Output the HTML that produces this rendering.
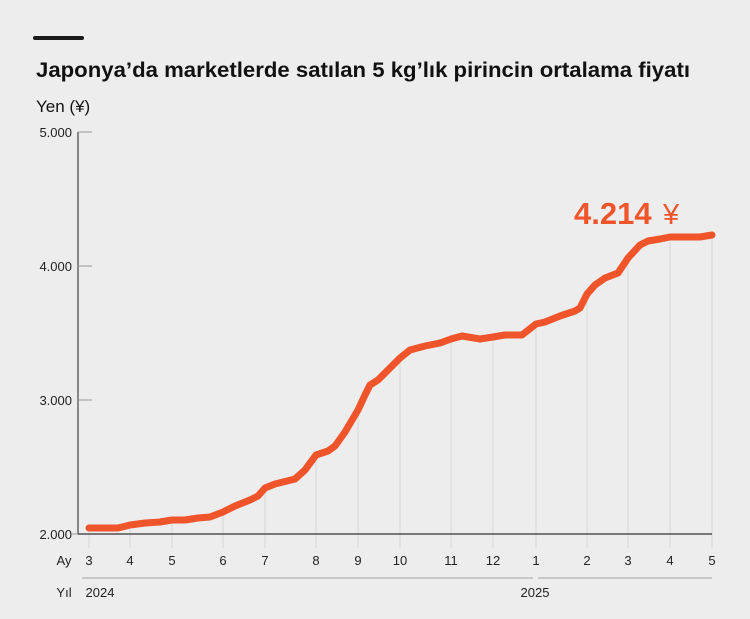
<!DOCTYPE html>
<html><head><meta charset="utf-8"><style>
html,body{margin:0;padding:0;background:#ededee;}
body{width:750px;height:614px;overflow:hidden;font-family:"Liberation Sans","DejaVu Sans",sans-serif;}
</style></head><body>
<svg width="750" height="614" viewBox="0 0 750 614" xmlns="http://www.w3.org/2000/svg" font-family="Liberation Sans, DejaVu Sans, sans-serif">
<rect width="750" height="614" fill="#ededee"/>
<line x1="35" y1="38" x2="82" y2="38" stroke="#1a1a1a" stroke-width="4" stroke-linecap="round"/>
<text x="36" y="77" font-size="21" font-weight="bold" fill="#111" textLength="654" lengthAdjust="spacingAndGlyphs">Japonya’da marketlerde satılan 5 kg’lık pirincin ortalama fiyatı</text>
<text x="36" y="112" font-size="17" fill="#111">Yen (¥)</text>
<g font-size="13" fill="#222" text-anchor="end">
<text x="72" y="137">5.000</text><text x="72" y="271">4.000</text><text x="72" y="405">3.000</text><text x="72" y="539">2.000</text>
</g>
<g stroke="#999" stroke-width="1">
<line x1="78" y1="132" x2="78" y2="534" stroke="#444" stroke-width="1.2"/>
<line x1="78" y1="132" x2="92" y2="132"/><line x1="78" y1="266" x2="92" y2="266"/><line x1="78" y1="400" x2="92" y2="400"/>
<line x1="72" y1="534" x2="78" y2="534"/>
</g>
<g stroke="#d6d6d8" stroke-width="1">
<line x1="89" y1="528" x2="89" y2="548"/><line x1="130" y1="525" x2="130" y2="548"/><line x1="172" y1="520" x2="172" y2="548"/>
<line x1="223" y1="512" x2="223" y2="548"/><line x1="265" y1="488" x2="265" y2="548"/><line x1="316" y1="455" x2="316" y2="548"/>
<line x1="358" y1="410" x2="358" y2="548"/><line x1="400" y1="358" x2="400" y2="548"/><line x1="451" y1="339" x2="451" y2="548"/>
<line x1="493" y1="337" x2="493" y2="548"/><line x1="536" y1="324" x2="536" y2="548"/><line x1="587" y1="294" x2="587" y2="548"/>
<line x1="628" y1="258" x2="628" y2="548"/><line x1="670" y1="237" x2="670" y2="548"/><line x1="712" y1="235" x2="712" y2="548"/>
</g>
<line x1="78" y1="534" x2="712" y2="534" stroke="#333" stroke-width="1.3"/>
<polyline fill="none" stroke="#f0542a" stroke-width="7" stroke-linejoin="round" stroke-linecap="round" points="89,528 118,528 130,525 145,523 160,522 172,520 185,520 198,518 210,517 223,512 235,506 250,500 258,496 265,488 275,484 295,479 305,470 316,455 328,451 335,446 345,432 358,410 365,395 370,385 378,380 390,368 400,358 410,350 425,346 440,343 451,339 462,336 480,339 493,337 505,335 522,335 536,324 545,322 560,316 575,311 580,308 587,294 595,285 605,278 618,273 628,258 640,245 648,241 660,239 670,237 690,237 700,237 712,235"/>
<text x="574" y="224" font-size="31" font-weight="bold" fill="#f0542a">4.214</text>
<text x="663" y="224" font-size="29" fill="#f0542a">¥</text>
<g font-size="13" fill="#222" text-anchor="middle">
<text x="64" y="565">Ay</text>
<text x="89" y="565">3</text><text x="130" y="565">4</text><text x="172" y="565">5</text><text x="223" y="565">6</text>
<text x="265" y="565">7</text><text x="316" y="565">8</text><text x="358" y="565">9</text><text x="400" y="565">10</text>
<text x="451" y="565">11</text><text x="493" y="565">12</text><text x="536" y="565">1</text><text x="587" y="565">2</text>
<text x="628" y="565">3</text><text x="670" y="565">4</text><text x="712" y="565">5</text>
<text x="64" y="597">Yıl</text>
<text x="100" y="597">2024</text><text x="535" y="597">2025</text>
</g>
<line x1="82" y1="578" x2="533" y2="578" stroke="#bbb" stroke-width="1.5"/>
<line x1="538" y1="578" x2="712" y2="578" stroke="#bbb" stroke-width="1.5"/>
</svg>
</body></html>
